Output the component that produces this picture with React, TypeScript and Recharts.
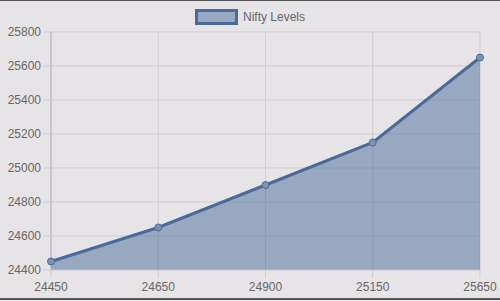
import {
  Area,
  AreaChart,
  CartesianGrid,
  Legend,
  XAxis,
  YAxis
} from 'recharts';

const levels = ['24450', '24650', '24900', '25150', '25650'];
const niftyValues = [24450, 24650, 24900, 25150, 25650];
const yTicks = [24400, 24600, 24800, 25000, 25200, 25400, 25600, 25800];

const data = levels.map((level, i) => ({ level, value: niftyValues[i] }));

const lineColor = '#4a6b9a';
const fontFamily = '"Liberation Sans", Arial, sans-serif';

function LegendBox() {
  return (
    <div
      style={{
        display: 'flex',
        justifyContent: 'center',
        alignItems: 'center',
        height: 24,
        fontFamily,
        fontSize: 12,
        color: '#666'
      }}
    >
      <span
        style={{
          display: 'inline-block',
          width: 37,
          height: 10,
          marginRight: 5,
          marginTop: -6,
          border: `3px solid ${lineColor}`,
          background: 'rgba(74,107,154,0.5)'
        }}
      />
      <span style={{ marginTop: -6 }}>Nifty Levels</span>
    </div>
  );
}

export default function App() {
  return (
    <div
      style={{
        position: 'absolute',
        left: 0,
        top: 0,
        width: 500,
        height: 301,
        background: '#e6e4e6',
        overflow: 'hidden'
      }}
    >
      <AreaChart
        width={500}
        height={301}
        data={data}
        margin={{ top: 8, right: 20, left: 0, bottom: 0 }}
      >
        <CartesianGrid stroke="#cfcdcf" />
        <XAxis
          dataKey="level"
          height={31}
          tickSize={8}
          tickMargin={4}
          tick={{ fill: '#666', fontSize: 12, fontFamily }}
          axisLine={{ stroke: '#cfcdcf' }}
          tickLine={{ stroke: '#cfcdcf' }}
        />
        <YAxis
          width={51}
          domain={[24400, 25800]}
          ticks={yTicks}
          tickSize={8}
          tickMargin={2}
          tick={{ fill: '#666', fontSize: 12, fontFamily }}
          axisLine={{ stroke: '#b4b2b4' }}
          tickLine={{ stroke: '#cfcdcf' }}
        />
        <Legend
          verticalAlign="top"
          height={24}
          wrapperStyle={{ left: 0, width: 500 }}
          content={() => <LegendBox />}
        />
        <Area
          type="linear"
          dataKey="value"
          name="Nifty Levels"
          stroke={lineColor}
          strokeWidth={3}
          fill={lineColor}
          fillOpacity={0.5}
          dot={{ r: 3.5, fill: '#7d93b5', stroke: lineColor, strokeWidth: 1, fillOpacity: 1 }}
          isAnimationActive={false}
        />
      </AreaChart>
      <div style={{ position: 'absolute', left: 0, top: 0, width: 500, height: 1, background: '#555' }} />
      <div style={{ position: 'absolute', left: 0, top: 298, width: 500, height: 2, background: '#555' }} />
    </div>
  );
}
